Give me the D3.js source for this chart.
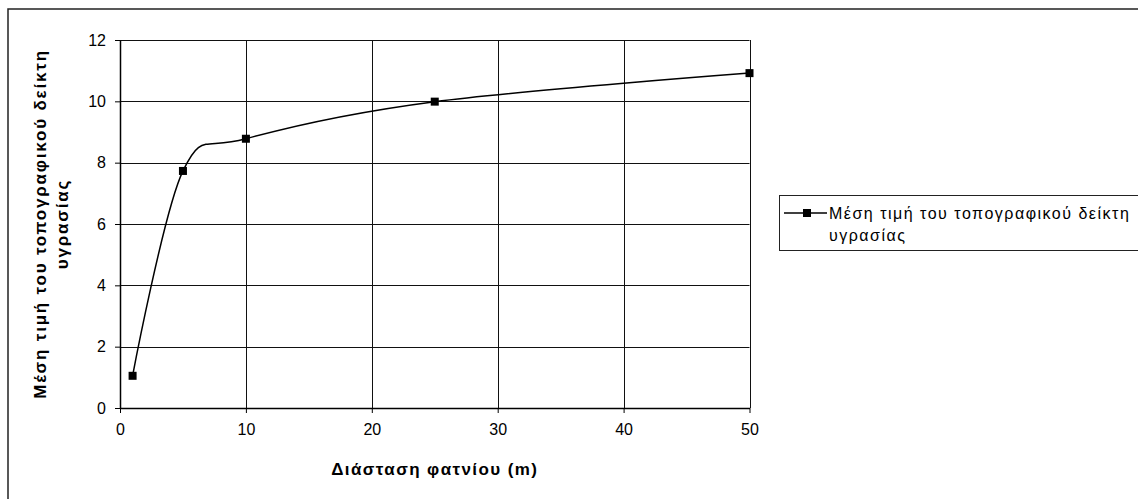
<!DOCTYPE html>
<html>
<head>
<meta charset="utf-8">
<script src="https://cdn.jsdelivr.net/npm/d3@7"></script>
<style>
    body { margin: 0; background: #fff; }
    svg { display: block; font-family: "Liberation Sans", Arial, sans-serif; }
</style>
</head>
<body>
<div id="container"></div>
<script>
    // Data
    let cellSizes = [1, 5, 10, 25, 50];
    let meanTwi = [1.05, 7.73, 8.78, 9.99, 10.92];
    let xTicks = [0, 10, 20, 30, 40, 50];
    let yTicks = [0, 2, 4, 6, 8, 10, 12];
    let seriesName = ["Μέση τιμή του τοπογραφικού δείκτη", "υγρασίας"];
    let yTitle = ["Μέση τιμή του τοπογραφικού δείκτη", "υγρασίας"];
    let xTitle = "Διάσταση φατνίου (m)";

    // Set up SVG
    let W = 1138, H = 499;
    let plot = { left: 120, right: 749.5, top: 40, bottom: 408 };

    let svg = d3.select("#container")
        .append("svg")
        .attr("width", W)
        .attr("height", H);

    // outer chart frame (runs off the right and bottom edges)
    svg.append("rect")
        .attr("x", 8).attr("y", 9)
        .attr("width", W).attr("height", H)
        .attr("fill", "none")
        .attr("stroke", "#222")
        .attr("stroke-width", 1.5);

    let x = d3.scaleLinear().domain([0, 50]).range([plot.left, plot.right]);
    let y = d3.scaleLinear().domain([0, 12]).range([plot.bottom, plot.top]);

    // Gridlines
    svg.append("g")
        .selectAll("line")
        .data(yTicks.filter(d => d > 0))
        .enter()
        .append("line")
        .attr("x1", plot.left).attr("x2", plot.right)
        .attr("y1", d => Math.round(y(d)) + 0.5)
        .attr("y2", d => Math.round(y(d)) + 0.5)
        .attr("stroke", "#111")
        .attr("stroke-width", 1);

    svg.append("g")
        .selectAll("line")
        .data(xTicks.filter(d => d > 0))
        .enter()
        .append("line")
        .attr("y1", plot.top).attr("y2", plot.bottom)
        .attr("x1", d => Math.round(x(d)) + 0.5)
        .attr("x2", d => Math.round(x(d)) + 0.5)
        .attr("stroke", "#111")
        .attr("stroke-width", 1);

    // Axes
    let xAxis = d3.axisBottom(x).tickValues(xTicks).tickSize(5).tickPadding(11).tickSizeOuter(0);
    let yAxis = d3.axisLeft(y).tickValues(yTicks).tickSize(5).tickPadding(9).tickSizeOuter(0);

    let gx = svg.append("g")
        .attr("transform", `translate(0, ${Math.round(plot.bottom)})`)
        .call(xAxis);
    let gy = svg.append("g")
        .attr("transform", `translate(${Math.round(plot.left)}, 0)`)
        .call(yAxis);

    [gx, gy].forEach(g => {
        g.select(".domain").attr("stroke", "#000").attr("stroke-width", 1.5);
        g.selectAll(".tick line").attr("stroke", "#000");
        g.selectAll(".tick text")
            .attr("fill", "#000")
            .style("font-size", "16px")
            .style("font-family", "Liberation Sans, Arial, sans-serif");
    });

    // Series
    let pts = cellSizes.map((d, i) => [d, meanTwi[i]]);
    let line = d3.line()
        .x(d => x(d[0]))
        .y(d => y(d[1]))
        .curve(d3.curveCardinal.tension(0));

    svg.append("path")
        .datum(pts)
        .attr("d", line)
        .attr("fill", "none")
        .attr("stroke", "#000")
        .attr("stroke-width", 1.5);

    svg.append("g")
        .selectAll("rect")
        .data(pts)
        .enter()
        .append("rect")
        .attr("x", d => x(d[0]) - 4)
        .attr("y", d => y(d[1]) - 4)
        .attr("width", 8)
        .attr("height", 8)
        .attr("fill", "#000");

    // Axis titles
    svg.append("text")
        .attr("x", (plot.left + plot.right) / 2)
        .attr("y", 475)
        .attr("text-anchor", "middle")
        .style("font-size", "17px")
        .style("font-weight", "bold")
        .style("letter-spacing", "1.4px")
        .text(xTitle);

    let yt = svg.append("text")
        .attr("transform", `translate(0, ${(plot.top + plot.bottom) / 2}) rotate(-90)`)
        .attr("text-anchor", "middle")
        .style("font-size", "17px")
        .style("font-weight", "bold")
        .style("letter-spacing", "1.8px");
    yt.selectAll("tspan")
        .data(yTitle)
        .enter()
        .append("tspan")
        .attr("x", 0)
        .attr("y", (d, i) => 46 + i * 22)
        .text(d => d);

    // Legend
    let lg = svg.append("g");
    lg.append("rect")
        .attr("x", 779.5).attr("y", 195.5)
        .attr("width", 400).attr("height", 55)
        .attr("fill", "#fff")
        .attr("stroke", "#222")
        .attr("stroke-width", 1);
    lg.append("line")
        .attr("x1", 784).attr("x2", 827)
        .attr("y1", 213).attr("y2", 213)
        .attr("stroke", "#000")
        .attr("stroke-width", 1.5);
    lg.append("rect")
        .attr("x", 803).attr("y", 209)
        .attr("width", 8).attr("height", 8)
        .attr("fill", "#000");
    lg.append("text")
        .style("font-size", "16px")
        .style("letter-spacing", "1.5px")
        .selectAll("tspan")
        .data(seriesName)
        .enter()
        .append("tspan")
        .attr("x", 829)
        .attr("y", (d, i) => 219 + i * 22)
        .text(d => d);
</script>
</body>
</html>
